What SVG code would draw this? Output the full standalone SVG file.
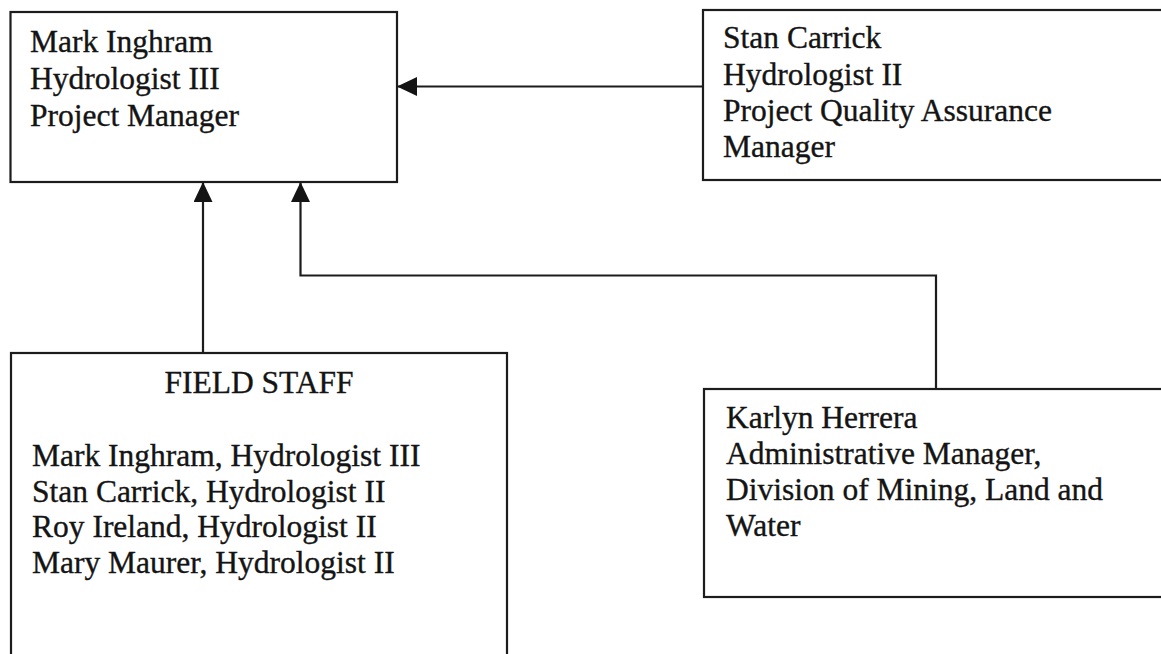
<svg xmlns="http://www.w3.org/2000/svg" width="1161" height="654" viewBox="0 0 1161 654">
<style>
.box{fill:#fff;stroke:#1c1c1c;stroke-width:2.2}
.t{font-family:"Liberation Serif","Times New Roman",serif;font-size:31.5px;fill:#141414;stroke:#141414;stroke-width:0.35}
.c{fill:none;stroke:#1c1c1c;stroke-width:2.2}
</style>
<defs>
<marker id="ah" markerWidth="20" markerHeight="19" refX="20" refY="9.5" orient="auto" markerUnits="userSpaceOnUse">
<path d="M0,0 L20,9.5 L0,19 Z" fill="#141414"/>
</marker>
</defs>
<rect width="1161" height="654" fill="#fff"/>
<g id="connectors">
<line class="c" x1="703" y1="86.5" x2="397" y2="86.5" marker-end="url(#ah)"/>
<line class="c" x1="203" y1="353" x2="203" y2="182" marker-end="url(#ah)"/>
<polyline class="c" points="936,389 936,275.5 300.5,275.5 300.5,182" marker-end="url(#ah)"/>
</g>
<g id="mark">
<rect class="box" x="10.5" y="12" width="386.5" height="170"/>
<text class="t" x="30" y="52">Mark Inghram</text>
<text class="t" x="30" y="89">Hydrologist III</text>
<text class="t" x="30" y="126">Project Manager</text>
</g>
<g id="stan">
<rect class="box" x="703" y="10" width="470" height="170"/>
<text class="t" x="723" y="48">Stan Carrick</text>
<text class="t" x="723" y="85">Hydrologist II</text>
<text class="t" x="723" y="121">Project Quality Assurance</text>
<text class="t" x="723" y="157">Manager</text>
</g>
<g id="field">
<rect class="box" x="11" y="353" width="496" height="320"/>
<text class="t" x="259" y="393" text-anchor="middle">FIELD STAFF</text>
<text class="t" x="32" y="466">Mark Inghram, Hydrologist III</text>
<text class="t" x="32" y="502">Stan Carrick, Hydrologist II</text>
<text class="t" x="32" y="537">Roy Ireland, Hydrologist II</text>
<text class="t" x="32" y="573">Mary Maurer, Hydrologist II</text>
</g>
<g id="karlyn">
<rect class="box" x="704" y="389" width="470" height="208"/>
<text class="t" x="726" y="428">Karlyn Herrera</text>
<text class="t" x="726" y="464">Administrative Manager,</text>
<text class="t" x="726" y="500">Division of Mining, Land and</text>
<text class="t" x="726" y="536">Water</text>
</g>
</svg>
